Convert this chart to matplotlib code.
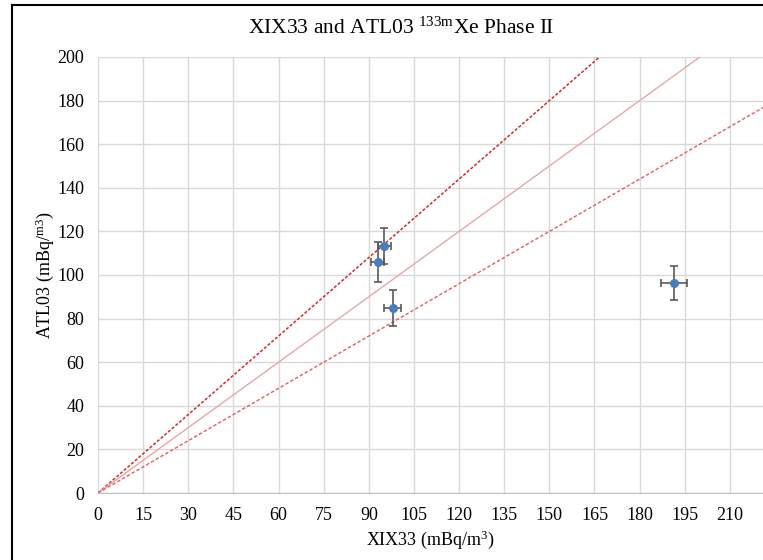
import matplotlib.pyplot as plt
from matplotlib.lines import Line2D
import numpy as np

plt.rcParams['font.family'] = ['Liberation Serif', 'DejaVu Serif']
plt.rcParams['mathtext.fontset'] = 'custom'
plt.rcParams['mathtext.rm'] = 'Liberation Serif'
plt.rcParams['mathtext.it'] = 'Liberation Serif:italic'
plt.rcParams['mathtext.bf'] = 'Liberation Serif:bold'

# misure XIX33 vs ATL03
xix33 = [95.1, 92.9, 97.9, 191.4]
atl03 = [113.4, 106.0, 85.0, 96.3]
xix33_err = [2.2, 2.3, 2.7, 4.2]
atl03_err = [8.3, 9.1, 8.2, 7.6]

# rette di riferimento (pendenze)
slope_hi = 1.2
slope_eq = 1.0
slope_lo = 0.8

x_ticks = list(range(0, 211, 15))
y_ticks = list(range(0, 201, 20))

fig = plt.figure(figsize=(7.63, 5.60), dpi=100)
ax = fig.add_axes([98 / 763, 1 - 493 / 560, 1 - 98 / 763, (493 - 57) / 560])

xx = np.array([0, 221])
ax.plot(xx, slope_hi * xx, color='#d42a2a', lw=1.1, ls=(0, (2, 1.2)), zorder=2)
ax.plot(xx, slope_eq * xx, color='#eaa6a6', lw=1.0, ls='-', zorder=2)
ax.plot(xx, slope_lo * xx, color='#e06060', lw=1.0, ls=(0, (2.5, 1.5)), zorder=2)

ax.errorbar(xix33, atl03, xerr=xix33_err, yerr=atl03_err, fmt='o',
            color='#4a7ebb', ms=5.5, ecolor='#595959', elinewidth=1.2,
            capsize=3, capthick=1.2, zorder=3)

ax.set_xlim(0, 221)
ax.set_ylim(0, 200)
ax.set_xticks(x_ticks)
ax.set_yticks(y_ticks)
ax.grid(True, color='#d9d9d9', lw=1.0, zorder=0)
ax.set_axisbelow(True)
for s in ['top', 'right', 'left']:
    ax.spines[s].set_visible(False)
ax.spines['bottom'].set_color('#bfbfbf')
ax.tick_params(length=0, labelsize=13, pad=10)

ax.set_xlabel('XIX33 (mBq/m$^{3}$)', fontsize=13, labelpad=3)
ax.set_ylabel('ATL03 (mBq/$^{\\mathrm{m3}}$)', fontsize=13, labelpad=1)
fig.text(401 / 763, 1 - 28 / 560, 'XIX33 and ATL03 $^{\\mathrm{133m}}$Xe Phase II',
         ha='center', va='center', fontsize=15.5)

# cornice nera (sinistra e in alto)
fig.add_artist(Line2D([12 / 763, 12 / 763], [0, 1 - 5 / 560], color='black', lw=1.5,
                      transform=fig.transFigure))
fig.add_artist(Line2D([12 / 763, 1], [1 - 5 / 560, 1 - 5 / 560], color='black', lw=1.5,
                      transform=fig.transFigure))

fig.savefig('out.png', dpi=100)
